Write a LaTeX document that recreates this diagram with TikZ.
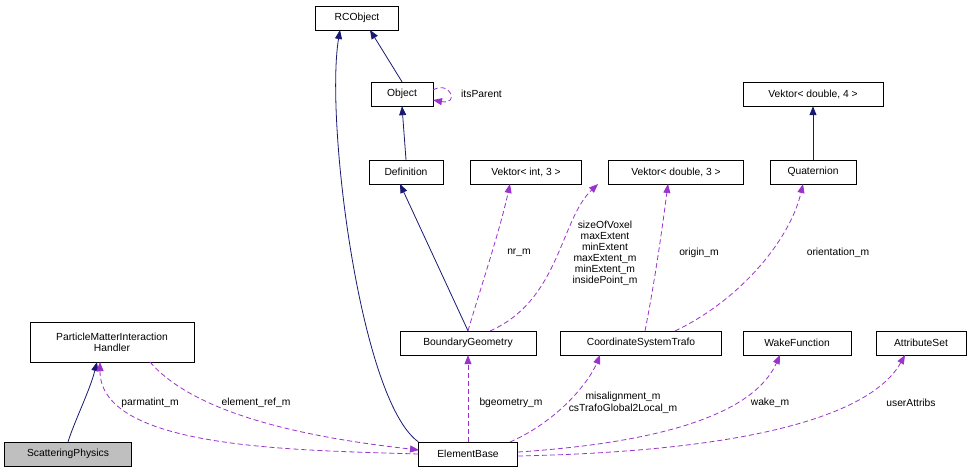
\documentclass[tikz,border=0pt]{standalone}
\usepackage{fontspec}
\setmainfont{Liberation Sans}
\usetikzlibrary{arrows.meta}
\definecolor{navy}{RGB}{25,25,112}
\definecolor{purp}{RGB}{154,50,205}
\begin{document}
\begin{tikzpicture}[x=1pt,y=-1pt,
  box/.style={draw=black,fill=white,inner sep=0pt,minimum height=24pt,font=\fontsize{10.3}{11.5}\selectfont,align=center},
  inh/.style={draw=navy,thick,-{Triangle[length=9pt,width=7pt]}},
  use/.style={draw=purp,thick,dashed,dash pattern=on 5pt off 3pt,-{Triangle[length=9pt,width=7pt]}},
  lab/.style={font=\fontsize{10.3}{11.5}\selectfont,align=center,inner sep=1pt}]
\useasboundingbox (0,0) rectangle (972,475);
\node[box,minimum width=83pt] (rc) at (357,18) {RCObject};
\node[box,minimum width=62pt] (obj) at (402,94) {Object};
\node[box,minimum width=74pt] (def) at (406,172) {Definition};
\node[box,minimum width=111pt] (vi3) at (526,172) {Vektor< int, 3 >};
\node[box,minimum width=135pt] (vd3) at (676,172) {Vektor< double, 3 >};
\node[box,minimum width=140pt] (vd4) at (813,94) {Vektor< double, 4 >};
\node[box,minimum width=86pt] (qua) at (813,172) {Quaternion};
\node[box,minimum width=164pt,minimum height=40pt,font=\fontsize{10.3}{11}\selectfont] (pmi) at (112,342) {ParticleMatterInteraction\\Handler};
\node[box,minimum width=136pt] (bg) at (468,343) {BoundaryGeometry};
\node[box,minimum width=161pt] (cst) at (641,343) {CoordinateSystemTrafo};
\node[box,minimum width=108pt] (wf) at (797,343) {WakeFunction};
\node[box,minimum width=90pt] (as) at (921,343) {AttributeSet};
\node[box,minimum width=127pt,fill=black!25] (sp) at (68,454) {ScatteringPhysics};
\node[box,minimum width=99pt] (eb) at (468,454) {ElementBase};

\draw[inh] (sp.north) .. controls (75,420) and (90,390) .. (97,362);
\draw[inh] (eb.north west) .. controls (360,400) and (325,120) .. (340,30);
\draw[inh] (obj.north) -- (370,30);
\draw[inh] (def.north) -- (obj.south);
\draw[inh] (bg.north) -- (400,184);
\draw[inh] (qua.north) -- (vd4.south);
\draw[use] (433,90) .. controls (450,80) and (460,105) .. (433,100);
\node[lab,anchor=west] at (460,94) {itsParent};

\draw[use] (bg.north) .. controls (480,290) and (500,230) .. (510,184);
\node[lab] at (519,253) {nr\_m};
\draw[use] (490,331) .. controls (560,300) and (560,220) .. (598,184);
\node[lab,font=\fontsize{10.3}{11}\selectfont] at (605,253) {sizeOfVoxel\\maxExtent\\minExtent\\maxExtent\_m\\minExtent\_m\\insidePoint\_m};
\draw[use] (645,331) .. controls (655,280) and (662,230) .. (668,184);
\node[lab] at (699,253) {origin\_m};
\draw[use] (675,331) .. controls (740,300) and (790,240) .. (803,184);
\node[lab] at (838,253) {orientation\_m};

\draw[use] (eb.west) .. controls (300,450) and (100,450) .. (100,362);
\node[lab] at (150,403) {parmatint\_m};
\draw[use] (150,362) .. controls (200,420) and (330,440) .. (419,450);
\node[lab] at (256,403) {element\_ref\_m};
\draw[use] (eb.north) -- (bg.south);
\node[lab] at (511,403) {bgeometry\_m};
\draw[use] (510,442) .. controls (560,420) and (590,380) .. (600,355);
\node[lab] at (623,403) {misalignment\_m\\csTrafoGlobal2Local\_m};
\draw[use] (518,452) .. controls (700,440) and (760,400) .. (780,355);
\node[lab] at (770,403) {wake\_m};
\draw[use] (518,456) .. controls (800,450) and (880,400) .. (905,355);
\node[lab] at (911,403) {userAttribs};
\end{tikzpicture}
\end{document}
